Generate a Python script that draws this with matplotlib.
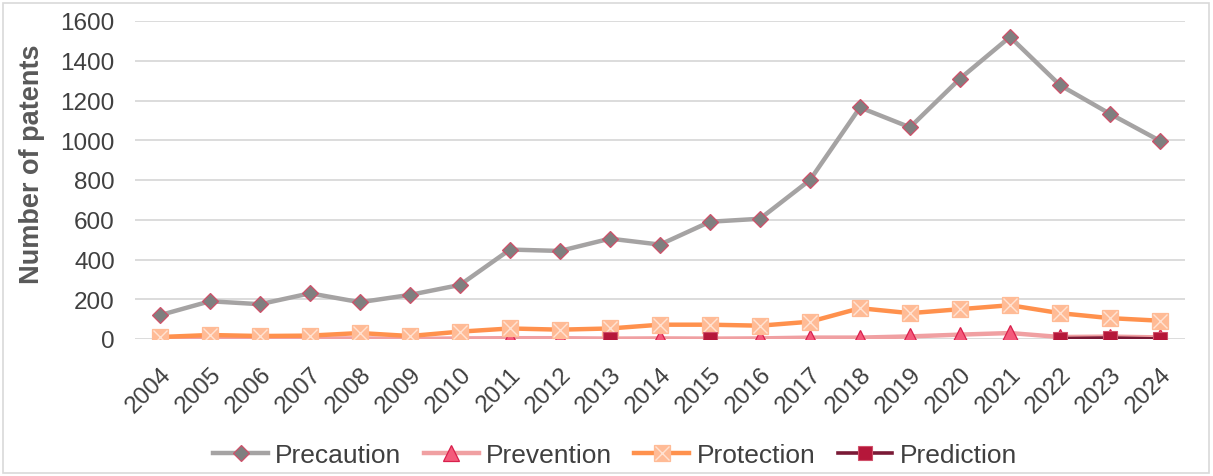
import numpy as np
import matplotlib
matplotlib.use("Agg")
import matplotlib.pyplot as plt
import matplotlib.transforms as mtransforms
from matplotlib.lines import Line2D
from matplotlib.legend_handler import HandlerTuple
from matplotlib.patches import Rectangle

plt.rcParams['font.family'] = ['Liberation Sans', 'DejaVu Sans']

years = [str(y) for y in range(2004, 2025)]
precaution = [120, 190, 175, 230, 185, 222, 272, 450, 443, 505, 475, 590, 605, 800,
              1165, 1065, 1310, 1520, 1277, 1133, 997]
prevention = [0, 2, 0, 2, 3, 0, 3, 4, 4, 2, 3, 2, 3, 7, 7, 13, 22, 30, 10, 12, 8]
protection = [10, 20, 15, 17, 30, 15, 37, 53, 47, 53, 72, 72, 67, 87,
              155, 130, 150, 170, 130, 105, 92]
prediction = [np.nan] * 9 + [0, np.nan, 0] + [np.nan] * 6 + [2, 5, 0]

fig = plt.figure(figsize=(12.13, 4.77), dpi=100)
ax = fig.add_axes([135 / 1213, 1 - 340 / 477, 1050 / 1213, 318 / 477])
x = np.arange(len(years))

st_pre = dict(color='#A5A3A3', lw=3.2, marker='D', ms=8.5, mfc='#7F7F7F', mec='#D0506A', mew=0.9)
st_prev = dict(color='#F0A0A2', lw=3.2, marker='^', ms=11, mfc='#F45A7A', mec='#D8204C', mew=0.9)
st_prot = dict(color='#FF914D', lw=3.2, marker='s', ms=11, mfc='#FFBB96', mec='#FFBB96', mew=0.9)
st_protx = dict(ls='none', marker='x', ms=10, mec='#FFE2D2', mew=1.0)
st_pred = dict(color='#7A1A36', lw=2.6, marker='s', ms=10.5, mfc='#B5173A', mec='#D0506A', mew=0.8)

ax.plot(x, precaution, zorder=3, **st_pre)
ax.plot(x, prevention, zorder=4, **st_prev)
ax.plot(x, protection, zorder=5, **st_prot)
ax.plot(x, protection, zorder=5.1, **st_protx)
ax.plot(x, prediction, zorder=6, **st_pred)

ax.set_xlim(-0.5, len(years) - 0.5)
ax.set_ylim(0, 1600)
ax.set_yticks(range(0, 1601, 200))
ax.set_xticks(x)
ax.set_xticklabels(years, rotation=45, ha='right', rotation_mode='anchor')
offset = mtransforms.ScaledTranslation(-3 / 100, 0, fig.dpi_scale_trans)
for lbl in ax.get_xticklabels():
    lbl.set_transform(lbl.get_transform() + offset)
ax.grid(axis='y', color='#D9D9D9', lw=1.3)
ax.set_axisbelow(True)
for s in ax.spines.values():
    s.set_visible(False)
ax.tick_params(axis='both', length=0, labelsize=17.5, colors='#404040')
ax.tick_params(axis='y', pad=14.5)
ax.tick_params(axis='x', pad=17)
ax.set_ylabel('Number of patents', fontsize=19.5, fontweight='bold', color='#595959')
ax.yaxis.set_label_coords(-90 / 1050, 0.553)

h1 = Line2D([], [], **st_pre)
h2 = Line2D([], [], **st_prev)
h3a = Line2D([], [], **st_prot)
h3b = Line2D([], [], **st_protx)
h4 = Line2D([], [], **st_pred)
fig.legend([h1, h2, (h3a, h3b), h4], ['Precaution', 'Prevention', 'Protection', 'Prediction'],
           handler_map={tuple: HandlerTuple(ndivide=1)},
           loc='center', bbox_to_anchor=(615 / 1213, 1 - 456 / 477), ncol=4, frameon=False,
           fontsize=19, labelcolor='#404040', handlelength=2.08, handletextpad=0.27,
           columnspacing=0.85)

fig.patches.append(Rectangle((3 / 1213, 3 / 477), 1 - 7 / 1213, 1 - 7 / 477,
                             transform=fig.transFigure, fill=False, ec='#D9D9D9', lw=1.2))
fig.savefig('out.png', dpi=100)
